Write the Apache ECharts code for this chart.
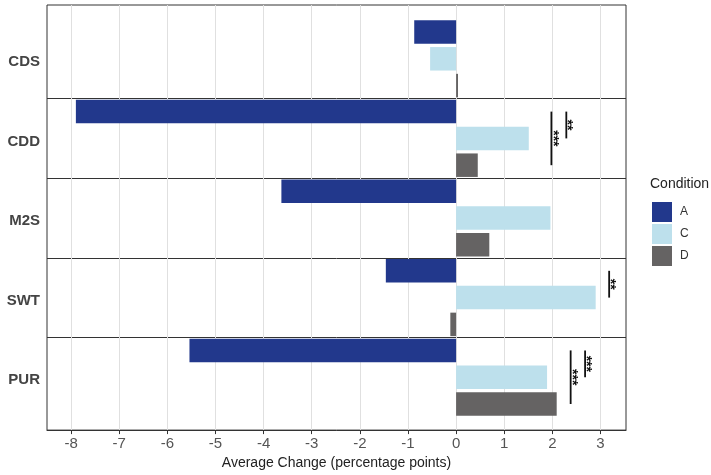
<!DOCTYPE html>
<html>
<head>
<meta charset="utf-8">
<script src="https://cdn.jsdelivr.net/npm/echarts@6/dist/echarts.min.js"></script>
<style>
  html, body { margin: 0; padding: 0; background: #fff; }
  #chart { width: 711px; height: 475px; }
</style>
</head>
<body>
<div id="chart"></div>
<script>
const measures = ['CDS', 'CDD', 'M2S', 'SWT', 'PUR'];
const conditions = ['A', 'C', 'D'];
const valuesA = [-0.87, -7.90, -3.63, -1.46, -5.54];
const valuesC = [-0.54, 1.51, 1.96, 2.90, 1.89];
const valuesD = [0.04, 0.45, 0.69, -0.12, 2.09];
const xTicks = [-8, -7, -6, -5, -4, -3, -2, -1, 0, 1, 2, 3];

// significance brackets (A compared with another condition)
const sigMeasure = ['CDD', 'CDD', 'SWT', 'PUR', 'PUR'];
const sigX = [1.98, 2.29, 3.18, 2.38, 2.68];
const sigFrom = ['A', 'A', 'A', 'A', 'A'];
const sigTo = ['D', 'C', 'C', 'D', 'C'];
const sigLabel = ['***', '**', '**', '***', '***'];

const colors = ['#22388c', '#bde0ec', '#656363'];
const font = '"Liberation Sans", Arial, sans-serif';
const barW = 23.5;
const barGap = 0.14;
const pitch = barW * (1 + barGap);

const chart = echarts.init(document.getElementById('chart'));

const xRange = { min: -8.5, max: 3.53 };
const seriesValues = [valuesA, valuesC, valuesD];

const series = conditions.map((c, i) => ({
  name: c,
  type: 'bar',
  xAxisIndex: 1,
  yAxisIndex: 1,
  data: seriesValues[i],
  barWidth: barW,
  barGap: (barGap * 100) + '%',
  itemStyle: { color: colors[i] }
}));

series.push({
  type: 'custom',
  xAxisIndex: 1,
  yAxisIndex: 1,
  data: sigX.map((x, i) => [x, measures.indexOf(sigMeasure[i]),
    conditions.indexOf(sigFrom[i]), conditions.indexOf(sigTo[i])]),
  renderItem: function (params, api) {
    const i = params.dataIndex;
    const p = api.coord([api.value(0), api.value(1)]);
    const y1 = p[1] + (api.value(2) - 1) * pitch;
    const y2 = p[1] + (api.value(3) - 1) * pitch;
    return {
      type: 'group',
      children: [
        {
          type: 'line',
          shape: { x1: p[0], y1: y1, x2: p[0], y2: y2 },
          style: { stroke: '#111', lineWidth: 1.8 }
        },
        {
          type: 'text',
          x: p[0] + 1,
          y: (y1 + y2) / 2,
          rotation: -Math.PI / 2,
          style: {
            text: sigLabel[i],
            font: 'bold 14px ' + font,
            fill: '#111',
            align: 'center',
            verticalAlign: 'middle'
          }
        }
      ]
    };
  },
  silent: true
});

chart.setOption({
  animation: false,
  textStyle: { fontFamily: font },
  title: {
    text: 'Condition',
    left: 645,
    top: 172,
    textStyle: { fontSize: 14, fontWeight: 'normal', color: '#222', fontFamily: font }
  },
  legend: {
    data: conditions,
    orient: 'vertical',
    left: 647,
    top: 197,
    itemWidth: 20,
    itemHeight: 20,
    itemGap: 2,
    icon: 'rect',
    textStyle: { fontSize: 12, color: '#333', padding: [0, 0, 0, 3], fontFamily: font }
  },
  grid: [
    { left: 47, right: 85, top: 5, bottom: 44, show: true, borderColor: '#333', borderWidth: 1 },
    { left: 47, right: 85, top: 19, bottom: 58 }
  ],
  xAxis: [
    {
      type: 'value',
      gridIndex: 0,
      min: xRange.min,
      max: xRange.max,
      name: 'Average Change (percentage points)',
      nameLocation: 'middle',
      nameGap: 25,
      nameTextStyle: { fontSize: 14, color: '#222', fontFamily: font },
      axisLine: { show: true, lineStyle: { color: '#333' } },
      axisTick: { show: true, length: 4, customValues: xTicks, lineStyle: { color: '#333' } },
      axisLabel: { customValues: xTicks, fontSize: 15, color: '#555', margin: 6, fontFamily: font },
      splitLine: { show: true, lineStyle: { color: '#e0e0e0', width: 1 } }
    },
    {
      type: 'value',
      gridIndex: 1,
      min: xRange.min,
      max: xRange.max,
      show: false,
      splitLine: { show: false }
    }
  ],
  yAxis: [
    { type: 'value', gridIndex: 0, show: false },
    {
      type: 'category',
      gridIndex: 1,
      data: measures,
      inverse: true,
      axisLine: { show: false },
      axisTick: { show: false },
      axisLabel: {
        fontSize: 15, fontWeight: 'bold', color: '#444', margin: 7,
        verticalAlign: 'top', lineHeight: 6, fontFamily: font
      },
      splitLine: {
        show: true,
        showMinLine: false,
        showMaxLine: false,
        lineStyle: { color: '#333', width: 1 }
      }
    }
  ],
  series: series
});
</script>
</body>
</html>
